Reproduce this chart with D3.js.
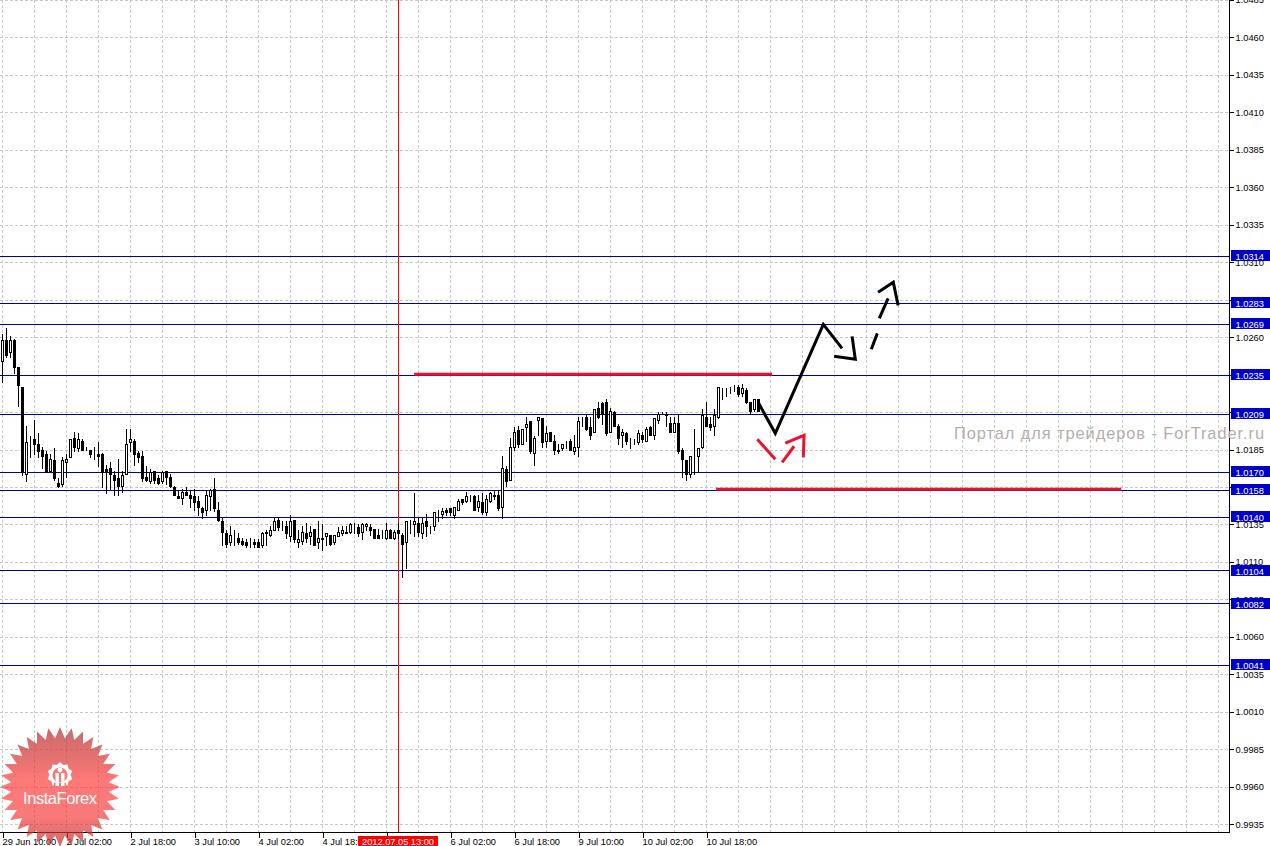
<!DOCTYPE html>
<html><head><meta charset="utf-8">
<script src="https://cdn.jsdelivr.net/npm/d3@7"></script>
<style>
html,body{margin:0;padding:0;background:#fff;overflow:hidden}
svg{display:block}
text{font-family:"Liberation Sans",sans-serif}
</style></head><body>
<svg id="c" width="1270" height="846"></svg>
<script>
const opens=[1.0244,1.0258,1.0250,1.0258,1.0240,1.0227,1.0169,1.0191,1.0192,1.0189,1.0185,1.0182,1.0171,1.0178,1.0163,1.0162,1.0177,1.0180,1.0193,1.0186,1.0191,1.0186,1.0185,1.0181,1.0182,1.0182,1.0172,1.0173,1.0168,1.0166,1.0161,1.0169,1.0190,1.0191,1.0183,1.0181,1.0167,1.0164,1.0171,1.0166,1.0164,1.0171,1.0167,1.0160,1.0154,1.0153,1.0157,1.0155,1.0154,1.0151,1.0146,1.0145,1.0154,1.0159,1.0145,1.0137,1.0129,1.0123,1.0127,1.0126,1.0124,1.0123,1.0122,1.0123,1.0123,1.0121,1.0130,1.0128,1.0131,1.0138,1.0134,1.0134,1.0127,1.0138,1.0123,1.0124,1.0129,1.0127,1.0132,1.0123,1.0126,1.0127,1.0128,1.0123,1.0127,1.0129,1.0130,1.0130,1.0134,1.0133,1.0130,1.0134,1.0133,1.0132,1.0128,1.0126,1.0126,1.0131,1.0126,1.0131,1.0128,1.0123,1.0136,1.0135,1.0136,1.0129,1.0137,1.0133,1.0134,1.0141,1.0142,1.0145,1.0146,1.0141,1.0145,1.0152,1.0151,1.0153,1.0154,1.0147,1.0150,1.0143,1.0151,1.0155,1.0155,1.0147,1.0172,1.0165,1.0187,1.0198,1.0189,1.0200,1.0204,1.0183,1.0205,1.0206,1.0191,1.0197,1.0191,1.0184,1.0186,1.0190,1.0191,1.0184,1.0187,1.0206,1.0207,1.0200,1.0197,1.0213,1.0216,1.0217,1.0197,1.0210,1.0201,1.0195,1.0196,1.0192,1.0191,1.0190,1.0195,1.0191,1.0200,1.0195,1.0205,1.0209,1.0209,1.0203,1.0197,1.0203,1.0185,1.0178,1.0169,1.0181,1.0181,1.0187,1.0207,1.0202,1.0201,1.0207,1.0225,1.0223,1.0226,1.0226,1.0227,1.0223,1.0225,1.0217,1.0212,1.0219];
const highs=[1.0262,1.0266,1.0261,1.0259,1.0240,1.0227,1.0201,1.0194,1.0205,1.0196,1.0187,1.0184,1.0182,1.0186,1.0166,1.0180,1.0182,1.0192,1.0197,1.0196,1.0192,1.0187,1.0185,1.0187,1.0190,1.0183,1.0175,1.0177,1.0171,1.0179,1.0171,1.0199,1.0199,1.0192,1.0184,1.0184,1.0174,1.0172,1.0171,1.0168,1.0171,1.0171,1.0169,1.0161,1.0158,1.0159,1.0160,1.0158,1.0159,1.0154,1.0147,1.0158,1.0159,1.0166,1.0150,1.0140,1.0131,1.0134,1.0131,1.0129,1.0126,1.0125,1.0126,1.0125,1.0125,1.0130,1.0131,1.0134,1.0139,1.0140,1.0137,1.0137,1.0141,1.0138,1.0131,1.0134,1.0136,1.0134,1.0132,1.0137,1.0135,1.0129,1.0128,1.0128,1.0133,1.0134,1.0134,1.0136,1.0136,1.0135,1.0136,1.0136,1.0135,1.0132,1.0132,1.0131,1.0136,1.0132,1.0131,1.0136,1.0129,1.0137,1.0138,1.0156,1.0140,1.0139,1.0142,1.0134,1.0143,1.0145,1.0146,1.0146,1.0146,1.0147,1.0152,1.0152,1.0157,1.0155,1.0155,1.0155,1.0156,1.0155,1.0157,1.0158,1.0158,1.0181,1.0174,1.0193,1.0200,1.0201,1.0199,1.0207,1.0204,1.0194,1.0207,1.0206,1.0201,1.0197,1.0195,1.0189,1.0189,1.0191,1.0192,1.0195,1.0207,1.0207,1.0208,1.0207,1.0212,1.0217,1.0217,1.0219,1.0213,1.0211,1.0202,1.0199,1.0197,1.0193,1.0192,1.0198,1.0197,1.0200,1.0201,1.0206,1.0210,1.0210,1.0210,1.0207,1.0207,1.0209,1.0186,1.0178,1.0181,1.0199,1.0186,1.0212,1.0217,1.0207,1.0212,1.0227,1.0226,1.0226,1.0227,1.0228,1.0228,1.0229,1.0226,1.0217,1.0219,1.0219];
const lows=[1.0230,1.0247,1.0247,1.0236,1.0214,1.0168,1.0164,1.0180,1.0182,1.0180,1.0173,1.0170,1.0170,1.0165,1.0160,1.0161,1.0167,1.0180,1.0184,1.0184,1.0185,1.0185,1.0180,1.0179,1.0174,1.0160,1.0156,1.0159,1.0155,1.0155,1.0157,1.0169,1.0184,1.0175,1.0177,1.0164,1.0164,1.0163,1.0163,1.0162,1.0163,1.0162,1.0160,1.0155,1.0153,1.0149,1.0155,1.0147,1.0145,1.0141,1.0139,1.0141,1.0145,1.0144,1.0137,1.0121,1.0120,1.0121,1.0121,1.0122,1.0121,1.0120,1.0120,1.0120,1.0120,1.0120,1.0121,1.0127,1.0131,1.0131,1.0131,1.0126,1.0124,1.0123,1.0120,1.0122,1.0123,1.0122,1.0121,1.0119,1.0118,1.0121,1.0121,1.0122,1.0127,1.0128,1.0129,1.0129,1.0129,1.0127,1.0125,1.0131,1.0128,1.0126,1.0126,1.0126,1.0125,1.0126,1.0125,1.0126,1.0100,1.0106,1.0129,1.0127,1.0127,1.0126,1.0127,1.0129,1.0131,1.0137,1.0139,1.0141,1.0141,1.0139,1.0145,1.0149,1.0150,1.0151,1.0145,1.0144,1.0142,1.0141,1.0150,1.0152,1.0145,1.0139,1.0161,1.0165,1.0185,1.0187,1.0189,1.0191,1.0183,1.0175,1.0195,1.0187,1.0187,1.0191,1.0182,1.0183,1.0185,1.0186,1.0185,1.0182,1.0181,1.0201,1.0198,1.0192,1.0197,1.0206,1.0202,1.0195,1.0197,1.0201,1.0189,1.0187,1.0189,1.0186,1.0189,1.0189,1.0190,1.0191,1.0195,1.0192,1.0203,1.0209,1.0201,1.0197,1.0197,1.0183,1.0167,1.0165,1.0167,1.0169,1.0171,1.0186,1.0201,1.0198,1.0195,1.0206,1.0219,1.0221,1.0223,1.0224,1.0221,1.0221,1.0216,1.0209,1.0211,1.0211];
const closes=[1.0258,1.0248,1.0258,1.0240,1.0228,1.0170,1.0190,1.0191,1.0189,1.0184,1.0181,1.0170,1.0179,1.0166,1.0161,1.0178,1.0179,1.0192,1.0187,1.0192,1.0185,1.0186,1.0182,1.0181,1.0181,1.0170,1.0171,1.0169,1.0165,1.0161,1.0168,1.0189,1.0192,1.0182,1.0180,1.0166,1.0165,1.0170,1.0165,1.0163,1.0170,1.0167,1.0161,1.0155,1.0153,1.0157,1.0155,1.0153,1.0150,1.0147,1.0143,1.0155,1.0158,1.0146,1.0138,1.0130,1.0122,1.0128,1.0127,1.0123,1.0122,1.0121,1.0122,1.0122,1.0120,1.0129,1.0129,1.0131,1.0137,1.0133,1.0134,1.0129,1.0137,1.0125,1.0125,1.0130,1.0126,1.0130,1.0121,1.0126,1.0125,1.0129,1.0122,1.0128,1.0130,1.0131,1.0129,1.0135,1.0134,1.0129,1.0135,1.0135,1.0131,1.0126,1.0126,1.0126,1.0131,1.0126,1.0130,1.0129,1.0122,1.0137,1.0136,1.0137,1.0130,1.0136,1.0134,1.0133,1.0143,1.0141,1.0144,1.0143,1.0143,1.0147,1.0151,1.0150,1.0154,1.0153,1.0145,1.0151,1.0143,1.0152,1.0156,1.0154,1.0146,1.0173,1.0164,1.0187,1.0197,1.0189,1.0199,1.0202,1.0184,1.0193,1.0207,1.0190,1.0196,1.0191,1.0185,1.0185,1.0189,1.0190,1.0185,1.0187,1.0204,1.0206,1.0199,1.0195,1.0212,1.0207,1.0209,1.0196,1.0211,1.0201,1.0193,1.0197,1.0191,1.0192,1.0191,1.0196,1.0192,1.0199,1.0195,1.0206,1.0209,1.0209,1.0208,1.0197,1.0203,1.0184,1.0179,1.0169,1.0181,1.0181,1.0186,1.0208,1.0201,1.0200,1.0208,1.0227,1.0225,1.0223,1.0226,1.0226,1.0222,1.0226,1.0217,1.0211,1.0219,1.0211];
const priceTicks=[1.0485,1.0460,1.0435,1.0410,1.0385,1.0360,1.0335,1.0310,1.0285,1.0260,1.0235,1.0210,1.0185,1.0160,1.0135,1.0110,1.0085,1.0060,1.0035,1.0010,0.9985,0.9960,0.9935];
const levels=[1.0314,1.0283,1.0269,1.0235,1.0209,1.0170,1.0158,1.0140,1.0104,1.0082,1.0041];
const levelLabels=["1.0314","1.0283","1.0269","1.0235","1.0209","1.0170","1.0158","1.0140","1.0104","1.0082","1.0041"];
const levelDrawn=[1.0314,1.0283,1.0269,1.0235,1.0209,1.0170,1.0158,1.0140,1.01048,1.00825,1.0041];
const timeTickIdx=[0,16,32,48,64,80,96,112,128,144,160,176];
const timeLabels=["29 Jun 10:00","2 Jul 02:00","2 Jul 18:00","3 Jul 10:00","4 Jul 02:00","4 Jul 18:00","5 Jul 10:00","6 Jul 02:00","6 Jul 18:00","9 Jul 10:00","10 Jul 02:00","10 Jul 18:00"];
const gridIdx=d3.range(0,305,8);
const cursorIdx=99;
const cursorLabel="2012.07.05 13:00";
const redLevels=[{a:102.9,b:192.4,p:1.02353},{a:178.4,b:279.7,p:1.01585}];
const blackStrokes=[
 [[188.9,1.02165],[193.2,1.01958],[205.2,1.02685],[209.9,1.02525]],
 [[207.9,1.02472],[213.2,1.02452],[212.4,1.02605]],
 [[217.2,1.02519],[218.7,1.02625]],
 [[219.2,1.02725],[221.4,1.02859]],
 [[218.9,1.02899],[222.7,1.02966],[223.9,1.02812]]];
const redStrokes=[
 [[188.7,1.01918],[193.2,1.01785]],
 [[194.9,1.01765],[197.9,1.01872]],
 [[195.7,1.01892],[200.4,1.01945],[200.2,1.01798]]];
const watermark="Портал для трейдеров - ForTrader.ru";

const svg=d3.select("#c");
const W=1270,H=846,R=1229,B=832,FS=9.3;
const x=d3.scaleLinear().domain([0,1]).range([2.5,6.5]);
const y=d3.scaleLinear().domain([1.0460,0.9935]).range([37.3,824.3]);
const py=v=>Math.round(y(v))+.5;
const defs=svg.append("defs");
const g=defs.append("linearGradient").attr("id","star").attr("x1",0).attr("y1",0).attr("x2",0).attr("y2",1);
[[0,"#b83a3a",.75],[.3,"#e23c3c",.72],[.45,"#ff3030",.65],[.75,"#f53030",.65],[1,"#b83a3a",.75]].forEach(s=>g.append("stop").attr("offset",s[0]).attr("stop-color",s[1]).attr("stop-opacity",s[2]));

svg.append("rect").attr("width",W).attr("height",H).attr("fill","#fefffe");
// grid
const grid=svg.append("g").attr("shape-rendering","crispEdges").attr("fill","none");
grid.selectAll("line.v").data(gridIdx).join("line").attr("class","v")
 .attr("x1",d=>x(d)).attr("x2",d=>x(d)).attr("y1",0).attr("y2",B)
 .attr("stroke","#bdd3c3").attr("stroke-dasharray","3,2");
grid.selectAll("line.h").data(priceTicks).join("line").attr("class","h")
 .attr("x1",0).attr("x2",R).attr("y1",py).attr("y2",py)
 .attr("stroke","#cbc7c4").attr("stroke-dasharray","3,2");
// levels
svg.append("g").attr("shape-rendering","crispEdges").selectAll("line").data(levelDrawn).join("line")
 .attr("x1",0).attr("x2",R).attr("y1",py).attr("y2",py).attr("stroke","#0000aa");
// cursor line
svg.append("line").attr("x1",x(cursorIdx)).attr("x2",x(cursorIdx)).attr("y1",0).attr("y2",B)
 .attr("stroke","#ff0000").attr("shape-rendering","crispEdges");
// candles
const idx=d3.range(opens.length);
const cg=svg.append("g").attr("shape-rendering","crispEdges");
cg.selectAll("line.w").data(idx).join("line").attr("class","w")
 .attr("x1",i=>x(i)).attr("x2",i=>x(i)).attr("y1",i=>Math.round(y(highs[i]))).attr("y2",i=>Math.round(y(lows[i]))+1)
 .attr("stroke","#000");
cg.selectAll("rect").data(idx).join("rect")
 .attr("x",i=>x(i)-1).attr("width",2)
 .attr("y",i=>py(Math.max(opens[i],closes[i])))
 .attr("height",i=>py(Math.min(opens[i],closes[i]))-py(Math.max(opens[i],closes[i])))
 .attr("fill",i=>closes[i]>opens[i]?"#fff":"#000").attr("stroke","#000");
// hand-drawn levels and arrows
const line=d3.line().x(d=>x(d[0])).y(d=>y(d[1]));
svg.append("g").selectAll("line").data(redLevels).join("line")
 .attr("x1",d=>x(d.a)).attr("x2",d=>x(d.b)).attr("y1",d=>y(d.p)).attr("y2",d=>y(d.p))
 .attr("stroke","#e8142e").attr("stroke-width",3);
svg.append("g").selectAll("path").data(blackStrokes).join("path").attr("d",line)
 .attr("fill","none").attr("stroke","#000").attr("stroke-width",3).attr("stroke-linejoin","miter");
svg.append("g").selectAll("path").data(redStrokes).join("path").attr("d",line)
 .attr("fill","none").attr("stroke","#e8142e").attr("stroke-width",3);
// axes
svg.append("rect").attr("x",R+1).attr("y",0).attr("width",W-R).attr("height",H).attr("fill","#fefffe");
svg.append("rect").attr("x",0).attr("y",B+1).attr("width",W).attr("height",H-B).attr("fill","#fefffe");
const ax=d3.axisRight(y).tickValues(priceTicks).tickFormat(d3.format(".4f")).tickSize(4).tickPadding(2);
const ag=svg.append("g").attr("transform",`translate(${R+.5},0)`).call(ax);
ag.select(".domain").remove();
ag.selectAll("line").attr("stroke","#000").attr("shape-rendering","crispEdges");
ag.selectAll("text").attr("font-size",FS).attr("font-family","Liberation Sans").attr("fill","#000");
const bx=d3.axisBottom(x).tickValues(timeTickIdx).tickFormat((d,i)=>timeLabels[i]).tickSize(5).tickPadding(1);
const bg=svg.append("g").attr("transform",`translate(0,${B+.5})`).call(bx);
bg.select(".domain").remove();
bg.selectAll("line").attr("stroke","#000").attr("shape-rendering","crispEdges");
bg.selectAll("text").attr("font-size",FS).attr("font-family","Liberation Sans").attr("fill","#000").attr("text-anchor","start").attr("dx",-0.5);
svg.append("g").attr("shape-rendering","crispEdges").call(s=>{
 s.append("line").attr("x1",R+.5).attr("x2",R+.5).attr("y1",0).attr("y2",B+1).attr("stroke","#000").attr("stroke-width",1);
 s.append("line").attr("x1",0).attr("x2",R+1).attr("y1",B+.5).attr("y2",B+.5).attr("stroke","#000").attr("stroke-width",1);
});
// level labels
const lb=svg.append("g").selectAll("g").data(levels).join("g");
lb.append("rect").attr("x",R+2).attr("width",W-R-2).attr("y",d=>py(d)-6.5).attr("height",11).attr("fill","#0000c8");
lb.append("text").attr("x",R+6.5).attr("y",d=>py(d)+3).attr("font-size",FS).attr("fill","#fff").text((d,i)=>levelLabels[i]);
// cursor label
svg.append("rect").attr("x",358).attr("y",836).attr("width",80).attr("height",10).attr("fill","#ff0000");
svg.append("text").attr("x",362).attr("y",845).attr("font-size",FS).attr("fill","#fff").attr("textLength",72).text(cursorLabel);
// watermark (over the axis, as in the reference)
svg.append("text").attr("x",954).attr("y",439).attr("font-size",16.4).attr("font-family","DejaVu Sans").attr("fill","#b8acac")
 .attr("textLength",310).text(watermark);
// logo
const cx=60,cy=787,n=32;
const star=d3.range(n*2).map(k=>{const a=k*Math.PI/n-Math.PI/2,r=k%2?49:60;return [cx+r*Math.cos(a),cy+r*Math.sin(a)];});
svg.append("path").attr("d",d3.line().curve(d3.curveLinearClosed)(star)).attr("fill","url(#star)");
const gy=775;
const gear=d3.range(20).map(k=>{const a=k*Math.PI/10-Math.PI/2,r=k%2?10.5:13;return [cx+r*Math.cos(a),gy+r*Math.sin(a)];});
svg.append("path").attr("d",d3.line().curve(d3.curveLinearClosed)(gear)).attr("fill","#fff");
svg.append("circle").attr("cx",cx).attr("cy",gy).attr("r",7.5).attr("fill","#fb7676");
svg.append("path").attr("d",`M${cx-6} ${gy+8}L${cx+6} ${gy+8}L${cx+6} ${gy+14}L${cx-6} ${gy+14}Z`).attr("fill","#fb7676");
svg.append("circle").attr("cx",cx).attr("cy",gy-5).attr("r",2.4).attr("fill","#fff");
svg.append("rect").attr("x",cx-4.5).attr("y",gy-2).attr("width",3.4).attr("height",13).attr("fill","#fff");
svg.append("rect").attr("x",cx+1.1).attr("y",gy-2).attr("width",3.4).attr("height",13).attr("fill","#fff");
svg.append("text").attr("x",23).attr("y",804).attr("font-size",16.5).attr("fill","#fff").attr("font-family","Open Sans").attr("textLength",74).text("InstaForex");
</script></body></html>
